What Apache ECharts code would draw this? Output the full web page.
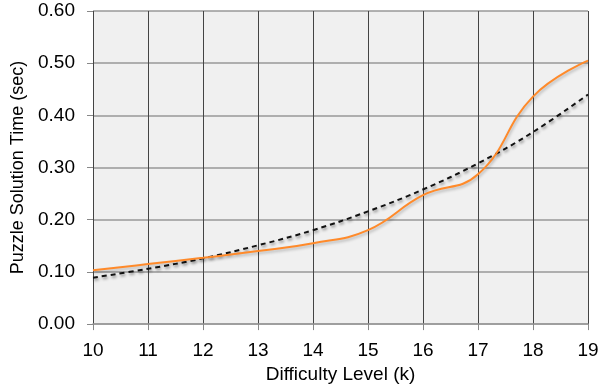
<!DOCTYPE html>
<html>
<head>
<meta charset="utf-8">
<script src="https://cdn.jsdelivr.net/npm/echarts@6/dist/echarts.min.js"></script>
<style>
  html, body { margin: 0; padding: 0; background: #fff; }
  #chart { width: 611px; height: 389px; }
</style>
</head>
<body>
<div id="chart"></div>
<script>
// Difficulty levels (k) on the x axis
const levels = [10, 11, 12, 13, 14, 15, 16, 17, 18, 19];
// Measured puzzle solution time (sec)
const solveTime = [0.103, 0.115, 0.127, 0.140, 0.155, 0.180, 0.247, 0.287, 0.436, 0.505];
// Exponential trend line values (sec)
const trendTime = [0.089, 0.106, 0.126, 0.151, 0.180, 0.216, 0.258, 0.308, 0.368, 0.440];
// Y tick values
const yTicks = [0.0, 0.1, 0.2, 0.3, 0.4, 0.5, 0.6];

const font = '"Liberation Sans", Arial, sans-serif';
const fontSize = 19;

const chart = echarts.init(document.getElementById('chart'), null, { renderer: 'canvas' });

chart.setOption({
  animation: false,
  backgroundColor: '#ffffff',
  grid: {
    left: 93, right: 23, top: 11, bottom: 64,
    show: true, backgroundColor: '#f0f0f0', borderWidth: 0
  },
  xAxis: {
    type: 'value',
    min: levels[0], max: levels[levels.length - 1], interval: 1,
    name: 'Difficulty Level (k)',
    nameLocation: 'middle', nameGap: 33,
    nameTextStyle: { fontFamily: font, fontSize: fontSize, color: '#000' },
    axisLine: { show: true, onZero: false, lineStyle: { color: '#999', width: 1.5 } },
    axisTick: { show: true, length: 6, lineStyle: { color: '#888', width: 1 } },
    axisLabel: { fontFamily: font, fontSize: fontSize, color: '#000', margin: 17 },
    splitLine: { show: true, lineStyle: { color: '#444', width: 1 } }
  },
  yAxis: {
    type: 'value',
    min: yTicks[0], max: yTicks[yTicks.length - 1], interval: 0.1,
    name: 'Puzzle Solution Time (sec)',
    nameLocation: 'middle', nameGap: 63,
    nameTextStyle: { fontFamily: font, fontSize: 18, color: '#000' },
    axisLine: { show: false },
    axisTick: { show: true, length: 6, lineStyle: { color: '#888', width: 1 } },
    axisLabel: {
      fontFamily: font, fontSize: fontSize, color: '#000', margin: 18,
      formatter: v => v.toFixed(2)
    },
    splitLine: { show: true, lineStyle: { color: '#999', width: 1.5 } }
  },
  series: [
    {
      name: 'Trend',
      type: 'line',
      data: levels.map((x, i) => [x, trendTime[i]]),
      smooth: 0.4,
      showSymbol: false,
      z: 3,
      lineStyle: {
        color: '#111', width: 2, type: [5, 4],
        shadowColor: 'rgba(0,0,0,0.45)', shadowBlur: 3, shadowOffsetX: 1, shadowOffsetY: 2
      }
    },
    {
      name: 'Solution Time',
      type: 'line',
      data: levels.map((x, i) => [x, solveTime[i]]),
      smooth: 0.45,
      showSymbol: false,
      z: 4,
      lineStyle: {
        color: '#ff8a2a', width: 2,
        shadowColor: 'rgba(0,0,0,0.25)', shadowBlur: 3, shadowOffsetX: 1, shadowOffsetY: 2
      }
    }
  ]
});
</script>
</body>
</html>
